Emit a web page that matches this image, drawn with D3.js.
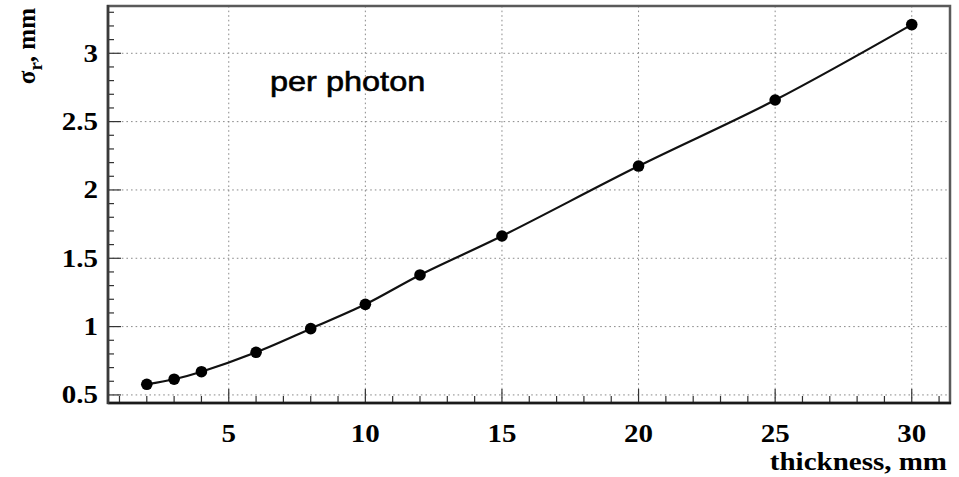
<!DOCTYPE html>
<html>
<head>
<meta charset="utf-8">
<script src="https://cdn.jsdelivr.net/npm/d3@7"></script>
<style>
  html, body { margin: 0; padding: 0; background: #fff; }
  svg { display: block; }
  .tick-label { font-family: "Liberation Serif", "Times New Roman", serif; font-weight: bold; font-size: 25px; fill: #000; }
  .title { font-family: "Liberation Serif", "Times New Roman", serif; font-weight: bold; font-size: 25px; fill: #000; }
  .note { font-family: "Liberation Sans", Arial, sans-serif; font-size: 28px; fill: #000; stroke: #000; stroke-width: 0.6px; }
</style>
</head>
<body>
<svg id="chart" width="959" height="477"></svg>
<script>
// Spatial resolution per photon vs. radiator thickness
const thickness = [2, 3, 4, 6, 8, 10, 12, 15, 20, 25, 30];
const sigmaR    = [0.578, 0.615, 0.670, 0.812, 0.985, 1.163, 1.378, 1.663, 2.175, 2.658, 3.21];
const xMajorTicks = [5, 10, 15, 20, 25, 30];
const yMajorTicks = [0.5, 1, 1.5, 2, 2.5, 3];
const yTickLabels = ["0.5", "1", "1.5", "2", "2.5", "3"];
const xTitle = "thickness, mm";
const noteText = "per photon";

const svg = d3.select("#chart");
const frame = { left: 108, right: 950, top: 6, bottom: 403 };
const stretch = 1.16; // horizontal widening of glyphs

const x = d3.scaleLinear().domain([0.58, 31.4]).range([frame.left, frame.right]);
const y = d3.scaleLinear().domain([0.441, 3.346]).range([frame.bottom, frame.top]);

// dotted grid
const grid = svg.append("g").attr("stroke", "#8a8a8a").attr("stroke-width", 1)
  .attr("stroke-dasharray", "1.6,3");
grid.selectAll("line.gx").data(xMajorTicks).join("line")
  .attr("x1", d => x(d)).attr("x2", d => x(d))
  .attr("y1", frame.top).attr("y2", frame.bottom);
grid.selectAll("line.gy").data(yMajorTicks).join("line")
  .attr("y1", d => y(d)).attr("y2", d => y(d))
  .attr("x1", frame.left).attr("x2", frame.right);

// frame (top/right lighter, axes darker)
svg.append("rect")
  .attr("x", frame.left).attr("y", frame.top)
  .attr("width", frame.right - frame.left).attr("height", frame.bottom - frame.top)
  .attr("fill", "none").attr("stroke", "#5a5a5a").attr("stroke-width", 2.5);

// axis ticks, pointing into the plot
const xMinor = d3.range(1, 32, 1).filter(v => v % 5 !== 0);
const yMinor = d3.range(5, 34, 1).map(v => v / 10).filter(v => Math.abs(v * 2 - Math.round(v * 2)) > 1e-6);

const ticks = svg.append("g").attr("stroke", "#333").attr("stroke-width", 1.2);
ticks.selectAll("line.xmaj").data(xMajorTicks).join("line")
  .attr("x1", d => x(d)).attr("x2", d => x(d)).attr("y1", frame.bottom).attr("y2", frame.bottom - 14);
ticks.selectAll("line.xmin").data(xMinor).join("line")
  .attr("x1", d => x(d)).attr("x2", d => x(d)).attr("y1", frame.bottom).attr("y2", frame.bottom - 7);
ticks.selectAll("line.ymaj").data(yMajorTicks).join("line")
  .attr("y1", d => y(d)).attr("y2", d => y(d)).attr("x1", frame.left).attr("x2", frame.left + 13);
ticks.selectAll("line.ymin").data(yMinor).join("line")
  .attr("y1", d => y(d)).attr("y2", d => y(d)).attr("x1", frame.left).attr("x2", frame.left + 6);

// main axis lines
svg.append("line").attr("x1", frame.left).attr("x2", frame.right + 1)
  .attr("y1", frame.bottom).attr("y2", frame.bottom)
  .attr("stroke", "#1a1a1a").attr("stroke-width", 2.5);
svg.append("line").attr("x1", frame.left).attr("x2", frame.left)
  .attr("y1", frame.top - 1).attr("y2", frame.bottom + 1)
  .attr("stroke", "#3a3a3a").attr("stroke-width", 2.5);

// tick labels
svg.append("g").selectAll("text").data(xMajorTicks).join("text")
  .attr("class", "tick-label")
  .attr("text-anchor", "middle")
  .attr("transform", d => `translate(${x(d)},442) scale(${stretch},1)`)
  .text(d => d);
svg.append("g").selectAll("text").data(yMajorTicks).join("text")
  .attr("class", "tick-label")
  .attr("text-anchor", "end")
  .attr("transform", d => `translate(98,${y(d) + 8.5}) scale(${stretch},1)`)
  .text((d, i) => yTickLabels[i]);

// axis titles
svg.append("text").attr("class", "title").attr("text-anchor", "end")
  .attr("transform", `translate(947,470) scale(${stretch},1)`)
  .text(xTitle);

const yt = svg.append("text").attr("class", "title").attr("text-anchor", "end")
  .attr("font-size", "28px")
  .attr("transform", `translate(35,8) rotate(-90)`);
yt.append("tspan").text("σ");
yt.append("tspan").attr("font-size", "19px").attr("dy", 7).text("r");
yt.append("tspan").attr("dy", -7).text(", mm");

// annotation
svg.append("text").attr("class", "note")
  .attr("transform", `translate(270,91) scale(${stretch},1)`)
  .text(noteText);

// smooth curve through the points
const pts = thickness.map((t, i) => [t, sigmaR[i]]);
svg.append("path").datum(pts)
  .attr("fill", "none").attr("stroke", "#111").attr("stroke-width", 2.2)
  .attr("d", d3.line().x(d => x(d[0])).y(d => y(d[1])).curve(d3.curveCatmullRom.alpha(0.5)));

svg.append("g").selectAll("circle").data(pts).join("circle")
  .attr("cx", d => x(d[0])).attr("cy", d => y(d[1])).attr("r", 5.8)
  .attr("fill", "#000");
</script>
</body>
</html>
